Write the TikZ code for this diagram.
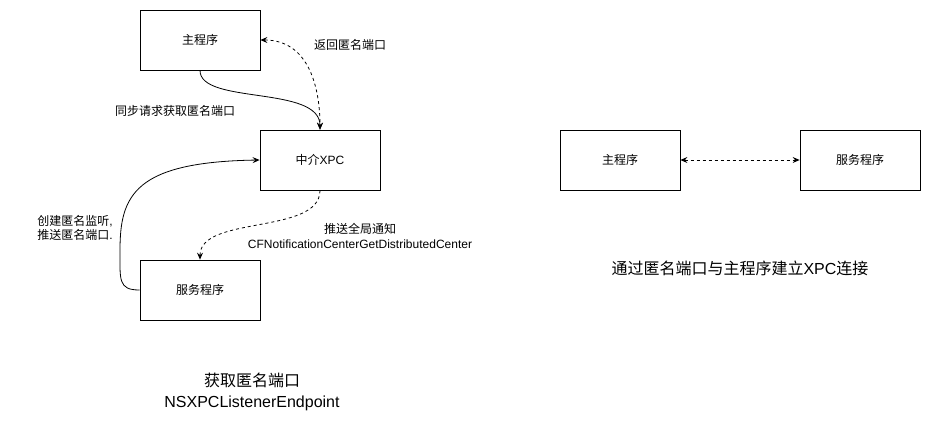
\documentclass[tikz,border=0pt]{standalone}
\usepackage{fontspec}
\setmainfont{Liberation Sans}
\newfontfamily\cjk{Noto Sans CJK SC}
\usetikzlibrary{arrows.meta}
\begin{document}
\begin{tikzpicture}[x=1pt,y=-1pt,
  box/.style={draw,line width=0.8pt,minimum width=120pt,minimum height=60pt,inner sep=0pt,font=\fontsize{12}{14}\selectfont},
  lbl/.style={font=\fontsize{12}{14}\selectfont,inner sep=0pt,align=center},
  ttl/.style={font=\fontsize{16}{20}\selectfont,inner sep=0pt,align=center},
  con/.style={line width=0.8pt,-{Stealth[length=7pt,width=6pt,inset=2.5pt]}},
  bicon/.style={line width=0.8pt,{Stealth[length=7pt,width=6pt,inset=2.5pt]}-{Stealth[length=7pt,width=6pt,inset=2.5pt]},dash pattern=on 3pt off 3pt}]
\useasboundingbox (0,0) rectangle (931,431);
\node[box] (main) at (200,40) {\cjk 主程序};
\node[box] (xpc) at (320,160) {\cjk 中介\normalfont XPC};
\node[box] (svc) at (200,290) {\cjk 服务程序};
\node[box] (main2) at (620,160) {\cjk 主程序};
\node[box] (svc2) at (860,160) {\cjk 服务程序};
% connectors
\draw[con] (main.south) .. controls (200,105) and (320,85) .. (xpc.north);
\draw[bicon] (main.east) .. controls (310,40) and (320,90) .. (xpc.north);
\draw[con] (svc.west) .. controls (118,290) and (120,280) .. (120,250)
  .. controls (120,195) and (135,162) .. (xpc.west);
\draw[con,dash pattern=on 3pt off 3pt] (xpc.south) .. controls (320,235) and (200,215) .. (svc.north);
\draw[bicon] (main2.east) -- (svc2.west);
% labels
\node[lbl,anchor=west] (l1) at (314,45) {\cjk 返回匿名端口};
\node[lbl] (l2) at (175,111) {\cjk 同步请求获取匿名端口};
\node[lbl,align=left] (l3) at (75,228) {{\cjk 创建匿名监听}, \\ {\cjk 推送匿名端口}.};
\node[lbl] (l4) at (360,236) {{\cjk 推送全局通知}\\[1pt]CFNotificationCenterGetDistributedCenter};
\node[ttl] (t1) at (252,392) {{\cjk 获取匿名端口}\\[1pt]NSXPCListenerEndpoint};
\node[ttl] (t2) at (740,268) {\cjk 通过匿名端口与主程序建立\normalfont XPC\cjk 连接};
\end{tikzpicture}
\end{document}
